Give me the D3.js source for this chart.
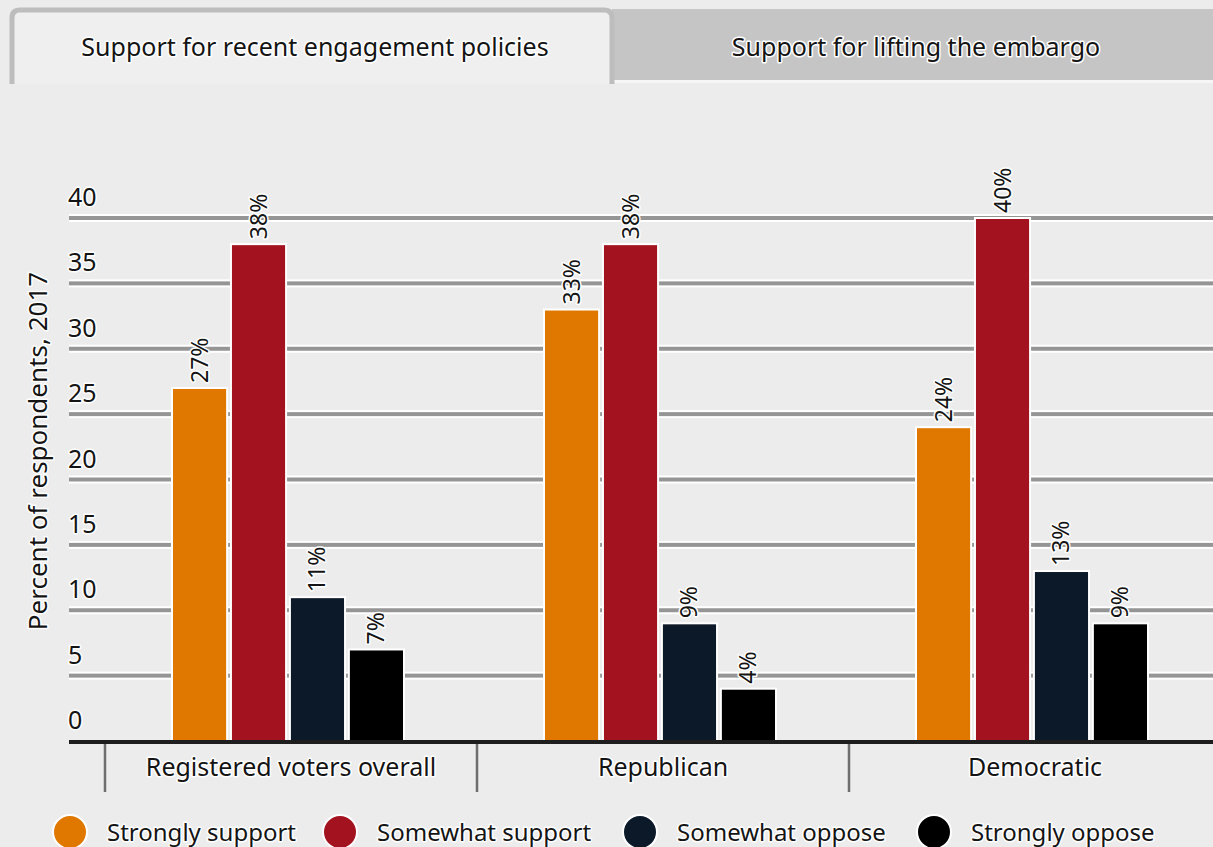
<!DOCTYPE html>
<html>
<head>
<meta charset="utf-8">
<script src="https://cdn.jsdelivr.net/npm/d3@7/dist/d3.min.js"></script>
<style>
  html, body { margin: 0; padding: 0; background: #ececec; }
  svg { display: block; }
  text { font-family: "Noto Sans", "Open Sans", sans-serif; fill: #141414; }
</style>
</head>
<body>
<svg id="chart" width="1213" height="847"></svg>
<script>
// ---- data ----
const tabs = ["Support for recent engagement policies", "Support for lifting the embargo"];
const categories = ["Registered voters overall", "Republican", "Democratic"];
const seriesNames = ["Strongly support", "Somewhat support", "Somewhat oppose", "Strongly oppose"];
const stronglySupport = [27, 33, 24];
const somewhatSupport = [38, 38, 40];
const somewhatOppose = [11, 9, 13];
const stronglyOppose = [7, 4, 9];
const seriesColors = ["#e07800", "#a3121f", "#0b1929", "#000000"];
const yTicks = [0, 5, 10, 15, 20, 25, 30, 35, 40];
const yTitle = "Percent of respondents, 2017";

const seriesValues = [stronglySupport, somewhatSupport, somewhatOppose, stronglyOppose];

const svg = d3.select("#chart");
const W = 1213, H = 847;

function halo(sel) {
  return sel.attr("stroke", "#ffffff").attr("stroke-width", 3).attr("stroke-linejoin", "round").attr("paint-order", "stroke");
}

// ---- tabs ----
const tabG = svg.append("g");
tabG.append("rect").attr("x", 612).attr("y", 9).attr("width", 620).attr("height", 71).attr("fill", "#c5c5c5");
tabG.append("rect").attr("x", 612).attr("y", 80).attr("width", 620).attr("height", 3).attr("fill", "#f6f6f6");
tabG.append("path")
  .attr("d", "M12,84 L12,18 Q12,10 20,10 L604,10 Q612,10 612,18 L612,84")
  .attr("fill", "#efefef").attr("stroke", "#bdbdbd").attr("stroke-width", 5);
halo(tabG.append("text").attr("x", 315).attr("y", 56).attr("text-anchor", "middle")
  .attr("font-size", 25).text(tabs[0]));
halo(tabG.append("text").attr("x", 916).attr("y", 56).attr("text-anchor", "middle")
  .attr("font-size", 25).text(tabs[1]));

// ---- scales ----
const y = d3.scaleLinear().domain([0, 40]).range([741, 218]);
const x0 = d3.scaleBand().domain(categories).range([105, 105 + 372 * 3]).paddingInner(0).paddingOuter(0);
const x1 = d3.scaleBand().domain(seriesNames).range([0, 232]).paddingInner(0.065);

const plotLeft = 69, plotRight = W;

// ---- gridlines ----
const grid = svg.append("g");
yTicks.filter(t => t > 0).forEach(t => {
  grid.append("rect").attr("x", plotLeft).attr("y", y(t) - 4).attr("width", plotRight - plotLeft).attr("height", 8).attr("fill", "#ffffff");
  grid.append("rect").attr("x", plotLeft).attr("y", y(t) - 2).attr("width", plotRight - plotLeft).attr("height", 4).attr("fill", "#959595");
});

// y tick labels
const yAxis = d3.axisLeft(y).tickValues(yTicks).tickSize(0).tickFormat(d3.format("d"));
const yAxisG = svg.append("g").call(yAxis);
yAxisG.select(".domain").remove();
halo(yAxisG.selectAll(".tick text")
  .attr("x", 68).attr("dy", "-0.5em").attr("text-anchor", "start")
  .attr("font-size", 25).attr("font-family", "Noto Sans, sans-serif").attr("fill", "#141414"));

// y title
halo(svg.append("text")
  .attr("transform", "translate(47,451) rotate(-90)")
  .attr("text-anchor", "middle").attr("font-size", 26)
  .text(yTitle));

// ---- bars ----
const groups = svg.append("g").selectAll("g").data(categories).join("g")
  .attr("transform", d => `translate(${x0(d) + x0.bandwidth() / 2 - 116 - 3},0)`);

groups.each(function(cat, ci) {
  const g = d3.select(this);
  seriesNames.forEach((s, si) => {
    const v = seriesValues[si][ci];
    g.append("rect")
      .attr("x", x1(s)).attr("y", y(v))
      .attr("width", x1.bandwidth()).attr("height", y(0) - y(v))
      .attr("fill", seriesColors[si])
      .attr("stroke", "#ffffff").attr("stroke-width", 2);
    halo(g.append("text")
      .attr("transform", `translate(${x1(s) + x1.bandwidth() / 2 + 8},${y(v) - 5}) rotate(-90)`)
      .attr("text-anchor", "start").attr("font-size", 23)
      .text(v + "%"));
  });
});

// ---- x axis ----
svg.append("rect").attr("x", plotLeft).attr("y", 740).attr("width", plotRight - plotLeft).attr("height", 4).attr("fill", "#1e1e1e");
const xAxis = d3.axisBottom(x0).tickSize(0);
const xAxisG = svg.append("g").attr("transform", "translate(0,744)").call(xAxis);
xAxisG.select(".domain").remove();
halo(xAxisG.selectAll(".tick text")
  .attr("y", 32).attr("dy", "0").attr("font-size", 25).attr("font-family", "Noto Sans, sans-serif")
  .attr("fill", "#141414"));
svg.append("g").selectAll("line").data(categories).join("line")
  .attr("x1", d => x0(d)).attr("x2", d => x0(d))
  .attr("y1", 744).attr("y2", 792)
  .attr("stroke", "#6e6e6e").attr("stroke-width", 2.5);

// ---- legend ----
const legendX = [70, 340, 640, 934];
const legend = svg.append("g").selectAll("g").data(seriesNames).join("g")
  .attr("transform", (d, i) => `translate(${legendX[i]},832)`);
legend.append("circle").attr("r", 17).attr("fill", (d, i) => seriesColors[i])
  .attr("stroke", "#ffffff").attr("stroke-width", 2);
halo(legend.append("text").attr("x", 37).attr("y", 9)
  .attr("font-size", 24)
  .text(d => d));
</script>
</body>
</html>
